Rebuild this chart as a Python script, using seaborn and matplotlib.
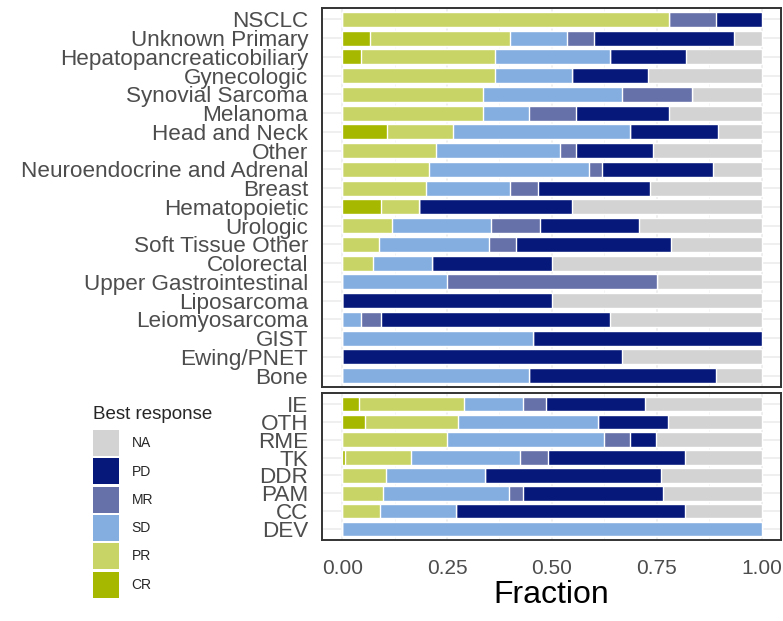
import numpy as np
import pandas as pd
import matplotlib
matplotlib.use('Agg')
import matplotlib.pyplot as plt
from matplotlib.patches import Patch
import seaborn as sns

# Categories, top to bottom
TUMOR_TYPES = ["NSCLC", "Unknown Primary", "Hepatopancreaticobiliary", "Gynecologic",
               "Synovial Sarcoma", "Melanoma", "Head and Neck", "Other",
               "Neuroendocrine and Adrenal", "Breast", "Hematopoietic", "Urologic",
               "Soft Tissue Other", "Colorectal", "Upper Gastrointestinal", "Liposarcoma",
               "Leiomyosarcoma", "GIST", "Ewing/PNET", "Bone"]
DRUG_CLASSES = ["IE", "OTH", "RME", "TK", "DDR", "PAM", "CC", "DEV"]

# fraction of each best response per tumour type
tumor_CR = [0, .067, .046, 0, 0, 0, .106, 0, 0, 0, .092, 0, 0, 0, 0, 0, 0, 0, 0, 0]
tumor_PR = [.779, .334, .319, .365, .335, .335, .158, .223, .206, .200, .091, .119, .089, .073, 0, 0, 0, 0, 0, 0]
tumor_SD = [0, .134, .273, .182, .333, .111, .422, .297, .383, .200, 0, .235, .260, .142, .250, 0, .046, .456, 0, .446]
tumor_MR = [.111, .066, 0, 0, .167, .111, 0, .037, .030, .067, 0, .117, .065, 0, .500, 0, .046, 0, 0, 0]
tumor_PD = [.110, .333, .181, .181, 0, .221, .210, .184, .264, .267, .364, .236, .369, .285, 0, .500, .546, .544, .667, .444]
tumor_NA = [0, .066, .181, .272, .165, .222, .104, .259, .117, .266, .453, .293, .217, .500, .250, .500, .362, 0, .333, .110]

# fraction of each best response per drug class
drug_CR = [.041, .054, 0, .006, 0, 0, 0, 0]
drug_PR = [.250, .223, .249, .159, .105, .098, .090, 0]
drug_SD = [.139, .334, .376, .259, .236, .300, .181, 1.0]
drug_MR = [.056, 0, .062, .067, 0, .034, 0, 0]
drug_PD = [.235, .165, .061, .326, .420, .333, .546, 0]
drug_NA = [.279, .224, .252, .183, .239, .235, .183, 0]

RESPONSES = ["CR", "PR", "SD", "MR", "PD", "NA"]  # stacking order, left to right
COLORS = {"NA": "#d3d3d3", "PD": "#06187a", "MR": "#6671a9",
          "SD": "#84ade0", "PR": "#c9d466", "CR": "#a6b800"}

GREY_TXT = "#4d4d4d"


def stacked_panel(ax, cats, parts):
    df = pd.DataFrame({"cat": cats})
    cum = np.cumsum(np.array(parts), axis=0)
    for i, r in enumerate(RESPONSES):
        df[r] = cum[i]
    # draw longest first so shorter layers sit on top
    for r in reversed(RESPONSES):
        sns.barplot(data=df, x=r, y="cat", order=cats, color=COLORS[r],
                    saturation=1, width=0.8, errorbar=None, ax=ax, zorder=2)
    ax.set_xlim(-0.048, 1.046)
    ax.set_ylim(len(cats) - 0.4, -0.6)
    ax.set_xticks([0, 0.25, 0.5, 0.75, 1.0])
    ax.set_xticks([0.125, 0.375, 0.625, 0.875], minor=True)
    ax.grid(True, which="major", color="#ebebeb", lw=1.1, zorder=0)
    ax.grid(True, which="minor", axis="x", color="#f3f3f3", lw=0.6, zorder=0)
    ax.set_axisbelow(True)
    ax.set_xlabel("")
    ax.set_ylabel("")
    for s in ax.spines.values():
        s.set_visible(True)
        s.set_color("#333333")
        s.set_linewidth(1.4)
    ax.tick_params(axis="y", length=8, width=2, color="#333333",
                   labelsize=16.2, labelcolor=GREY_TXT, pad=2)
    ax.tick_params(axis="x", which="minor", length=0)


sns.set_style("white")
plt.rcParams['font.family'] = ['Liberation Sans', 'DejaVu Sans']

fig = plt.figure(figsize=(7.83, 6.21), dpi=100)
left, right = 322 / 783, 781 / 783
ax_top = fig.add_axes([left, 1 - 387 / 621, right - left, (387 - 8) / 621])
ax_bot = fig.add_axes([left, 1 - 540 / 621, right - left, (540 - 393) / 621])

stacked_panel(ax_top, TUMOR_TYPES,
              [tumor_CR, tumor_PR, tumor_SD, tumor_MR, tumor_PD, tumor_NA])
stacked_panel(ax_bot, DRUG_CLASSES,
              [drug_CR, drug_PR, drug_SD, drug_MR, drug_PD, drug_NA])

ax_top.tick_params(axis="x", which="major", length=0, labelbottom=False)
ax_bot.tick_params(axis="x", which="major", length=10, width=2.5, color="#333333",
                   labelsize=15, labelcolor=GREY_TXT, pad=4)
ax_bot.set_xticklabels(["0.00", "0.25", "0.50", "0.75", "1.00"])
ax_bot.set_xlabel("Fraction", fontsize=23, color="black", labelpad=1)

handles = [Patch(facecolor=COLORS[r], edgecolor="none", label=r)
           for r in reversed(RESPONSES)]
leg = fig.legend(handles=handles, title="Best response", loc="upper left",
                 bbox_to_anchor=(93 / 783, 1 - 406 / 621), frameon=False,
                 fontsize=10, title_fontsize=13.5, handlelength=1.87,
                 handleheight=2.5, labelspacing=0.17, handletextpad=0.9,
                 borderaxespad=0, borderpad=0, alignment="left")
# a bit more room between title and first key
leg._legend_box.sep = 5

fig.savefig("out.png", dpi=100)
